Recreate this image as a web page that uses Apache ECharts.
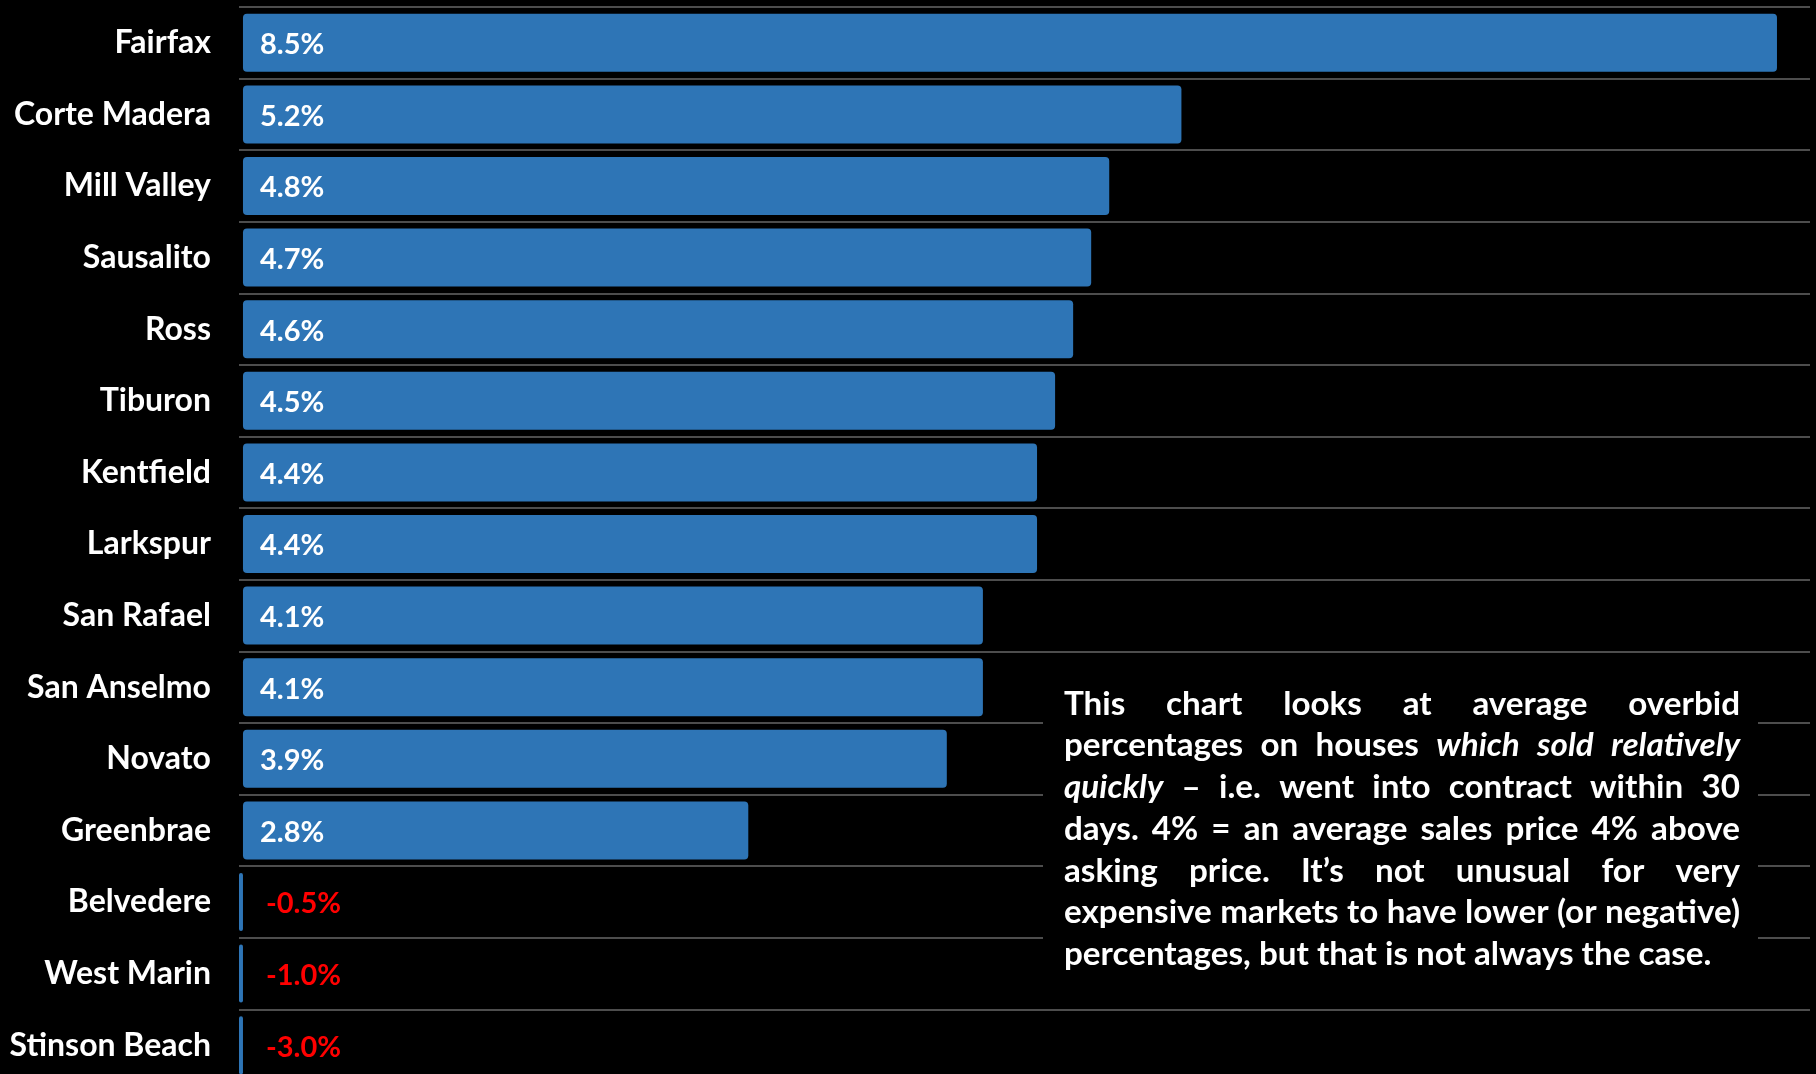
<!DOCTYPE html>
<html>
<head>
<meta charset="utf-8">
<style>
html,body{margin:0;padding:0;background:#000;}
#chart{width:1816px;height:1074px;}
</style>
<script src="https://cdn.jsdelivr.net/npm/echarts@6/dist/echarts.min.js"></script>
</head>
<body>
<div id="chart"></div>
<script>
const categories = ['Fairfax','Corte Madera','Mill Valley','Sausalito','Ross','Tiburon','Kentfield','Larkspur','San Rafael','San Anselmo','Novato','Greenbrae','Belvedere','West Marin','Stinson Beach'];
const values = [8.5, 5.2, 4.8, 4.7, 4.6, 4.5, 4.4, 4.4, 4.1, 4.1, 3.9, 2.8, -0.5, -1.0, -3.0];
// note lines; words wrapped in *...* are italic; last line is not justified
const noteLines = [
  'This chart looks at average overbid',
  'percentages on houses *which* *sold* *relatively*',
  '*quickly* – i.e. went into contract within 30',
  'days. 4% = an average sales price 4% above',
  'asking price. It’s not unusual for very',
  'expensive markets to have lower (or negative)',
  'percentages, but that is not always the case.'
];

const FONT = 'Lato';
const chart = echarts.init(document.getElementById('chart'));

// --- justified note text (computed layout) ---
const box = {x: 1043, y: 688, w: 715, h: 290};
const textLeft = 1064, textRight = 1740, textW = textRight - textLeft;
const firstLineY = 704, lineGap = 41.7;
const ctx = document.createElement('canvas').getContext('2d');
function fontStr(size, italic){ return (italic ? 'italic ' : '') + 'bold ' + size + 'px ' + FONT; }
function parse(line){ return line.split(' ').map(w => { const it = /^\*.*\*$/.test(w); return {t: it ? w.slice(1,-1) : w, it}; }); }
const parsed = noteLines.map(parse);
function natural(words, size){
  let s = 0; words.forEach(w => { ctx.font = fontStr(size, w.it); s += ctx.measureText(w.t).width; });
  ctx.font = fontStr(size, false); s += ctx.measureText(' ').width * (words.length - 1);
  return s;
}
let fsz = 34;
const maxNat = Math.max(...parsed.map(p => natural(p, 34)));
if (maxNat > textW) fsz = Math.floor(34 * textW / maxNat * 10) / 10;
const noteGraphics = [{type:'rect', z: 100, shape:{x: box.x, y: box.y, width: box.w, height: box.h}, style:{fill:'#000'}}];
parsed.forEach((words, li) => {
  const y = firstLineY + li * lineGap;
  const widths = words.map(w => { ctx.font = fontStr(fsz, w.it); return ctx.measureText(w.t).width; });
  const sum = widths.reduce((a,b)=>a+b,0);
  ctx.font = fontStr(fsz, false);
  const space = ctx.measureText(' ').width;
  const last = li === parsed.length - 1;
  const gap = last ? space : (textW - sum) / (words.length - 1);
  let x = textLeft;
  words.forEach((w, i) => {
    noteGraphics.push({type:'text', z: 101, x: x, y: y, style:{text: w.t, fill:'#fff', font: fontStr(fsz, w.it), textVerticalAlign:'middle', textAlign:'left'}});
    x += widths[i] + gap;
  });
});

const option = {
  backgroundColor: '#000',
  animation: false,
  grid: {left: 239, right: 6, top: 7, height: 1074, containLabel: false, outerBoundsMode: 'none'},
  xAxis: {
    type: 'value', min: -0.022, max: 8.683,
    axisLine: {show: false}, axisTick: {show: false}, axisLabel: {show: false}, splitLine: {show: false}
  },
  yAxis: {
    type: 'category', data: categories, inverse: true,
    axisLine: {show: false}, axisTick: {show: false},
    axisLabel: {color: '#fff', fontFamily: FONT, fontWeight: 'bold', fontSize: 32, margin: 28, padding: [4, 0, 0, 0]},
    splitLine: {show: true, lineStyle: {color: '#4d4d4d', width: 2}}
  },
  series: [{
    type: 'bar',
    data: values.map(v => ({
      value: v,
      label: v < 0
        ? {show: true, position: 'right', distance: 23, color: '#ff0000'}
        : {show: true, position: 'insideLeft', distance: 17, color: '#fff'}
    })),
    barCategoryGap: '19%',
    itemStyle: {color: '#2e75b6', borderRadius: 4},
    label: {fontFamily: FONT, fontWeight: 'bold', fontSize: 29, offset: [0, 2], formatter: p => p.value.toFixed(1) + '%'},
    clip: true
  }],
  graphic: noteGraphics
};
chart.setOption(option);
</script>
</body>
</html>
